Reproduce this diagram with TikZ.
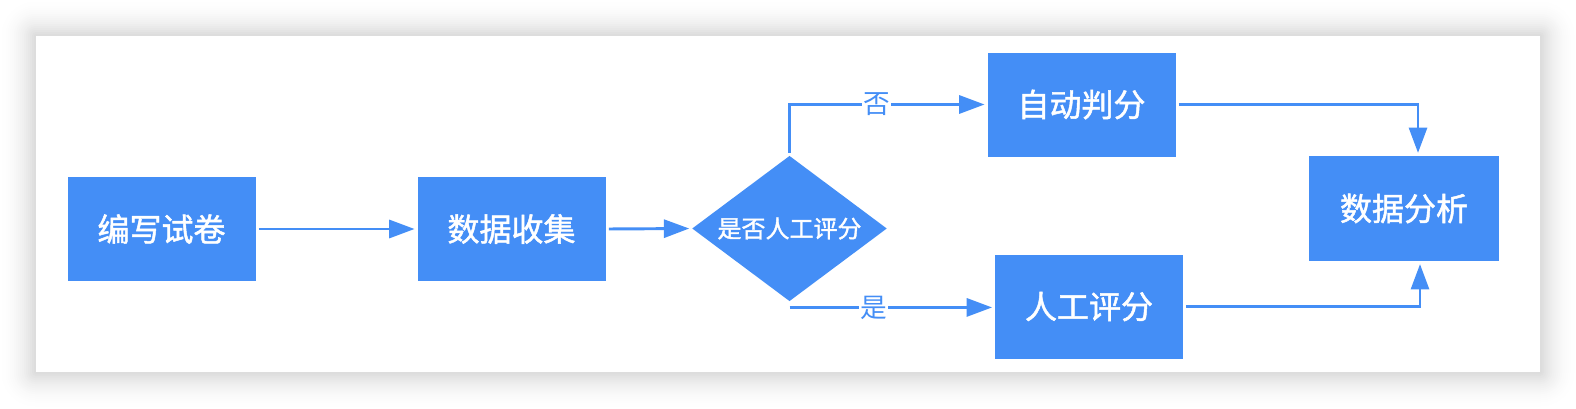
\documentclass[tikz,border=0pt]{standalone}
\usepackage{fontspec}
\newfontfamily\cjk{Noto Sans CJK SC}
\newfontfamily\cjkbold[FakeBold=1.5]{Noto Sans CJK SC}
\usetikzlibrary{arrows.meta,shapes.geometric}
\definecolor{flowblue}{HTML}{448EF6}
\begin{document}
\begin{tikzpicture}[x=0.75pt,y=-0.75pt,
  box/.style={rectangle, fill=flowblue, text=white, font=\cjkbold\fontsize{24}{28}\selectfont,
    minimum width=141pt, minimum height=78pt, inner sep=0pt},
  dec/.style={diamond, fill=flowblue, text=white, font=\cjkbold\fontsize{18}{22}\selectfont,
    minimum width=146pt, minimum height=109pt, inner sep=0pt},
  flow/.style={draw=flowblue, line width=2.2pt, -{Triangle[length=19pt,width=13.5pt]},
    shorten <=2.25pt, shorten >=2pt},
  lab/.style={fill=white, text=flowblue, font=\cjk\fontsize{20}{24}\selectfont, inner sep=1pt}]
\useasboundingbox (0,0) rectangle (1576,408);
\fill[white] (0,0) rectangle (1576,408);
\foreach \e [evaluate=\e as \r using \e*0.75, evaluate=\e as \p using 15*(1-\e/38)^2] in {36,34,...,2}
  \fill[black!\p, rounded corners=\r pt] (36-\e,36-\e) rectangle (1540+\e,372+\e);
\fill[white] (36,36) rectangle (1540,372);

\node[box] (write) at (161.5,229) {编写试卷};
\node[box] (collect) at (511.5,229) {数据收集};
\node[dec] (judge) at (789.5,228.5) {\makebox[0pt]{是否人工评分}};
\node[box] (auto) at (1081.5,104.5) {自动判分};
\node[box] (manual) at (1089,306.5) {人工评分};
\node[box, minimum width=142.5pt, minimum height=79pt] (an) at (1404,208.5) {数据分析};
\coordinate (yesstart) at ([yshift=-4.5pt]judge.south);

\draw[flow] (write.east) -- (collect.west);
\draw[flow] (collect.east) -- (judge.west);
\draw[flow] (judge.north) |- node[lab,pos=0.72]{否} (auto.west);
\draw[flow, shorten <=0pt] (yesstart) -- node[lab,pos=0.41]{是} (yesstart -| manual.west);
\draw[flow] (auto.east) -| ([xshift=10.5pt]an.north);
\draw[flow] (manual.east) -| ([xshift=12pt]an.south);
\end{tikzpicture}
\end{document}
